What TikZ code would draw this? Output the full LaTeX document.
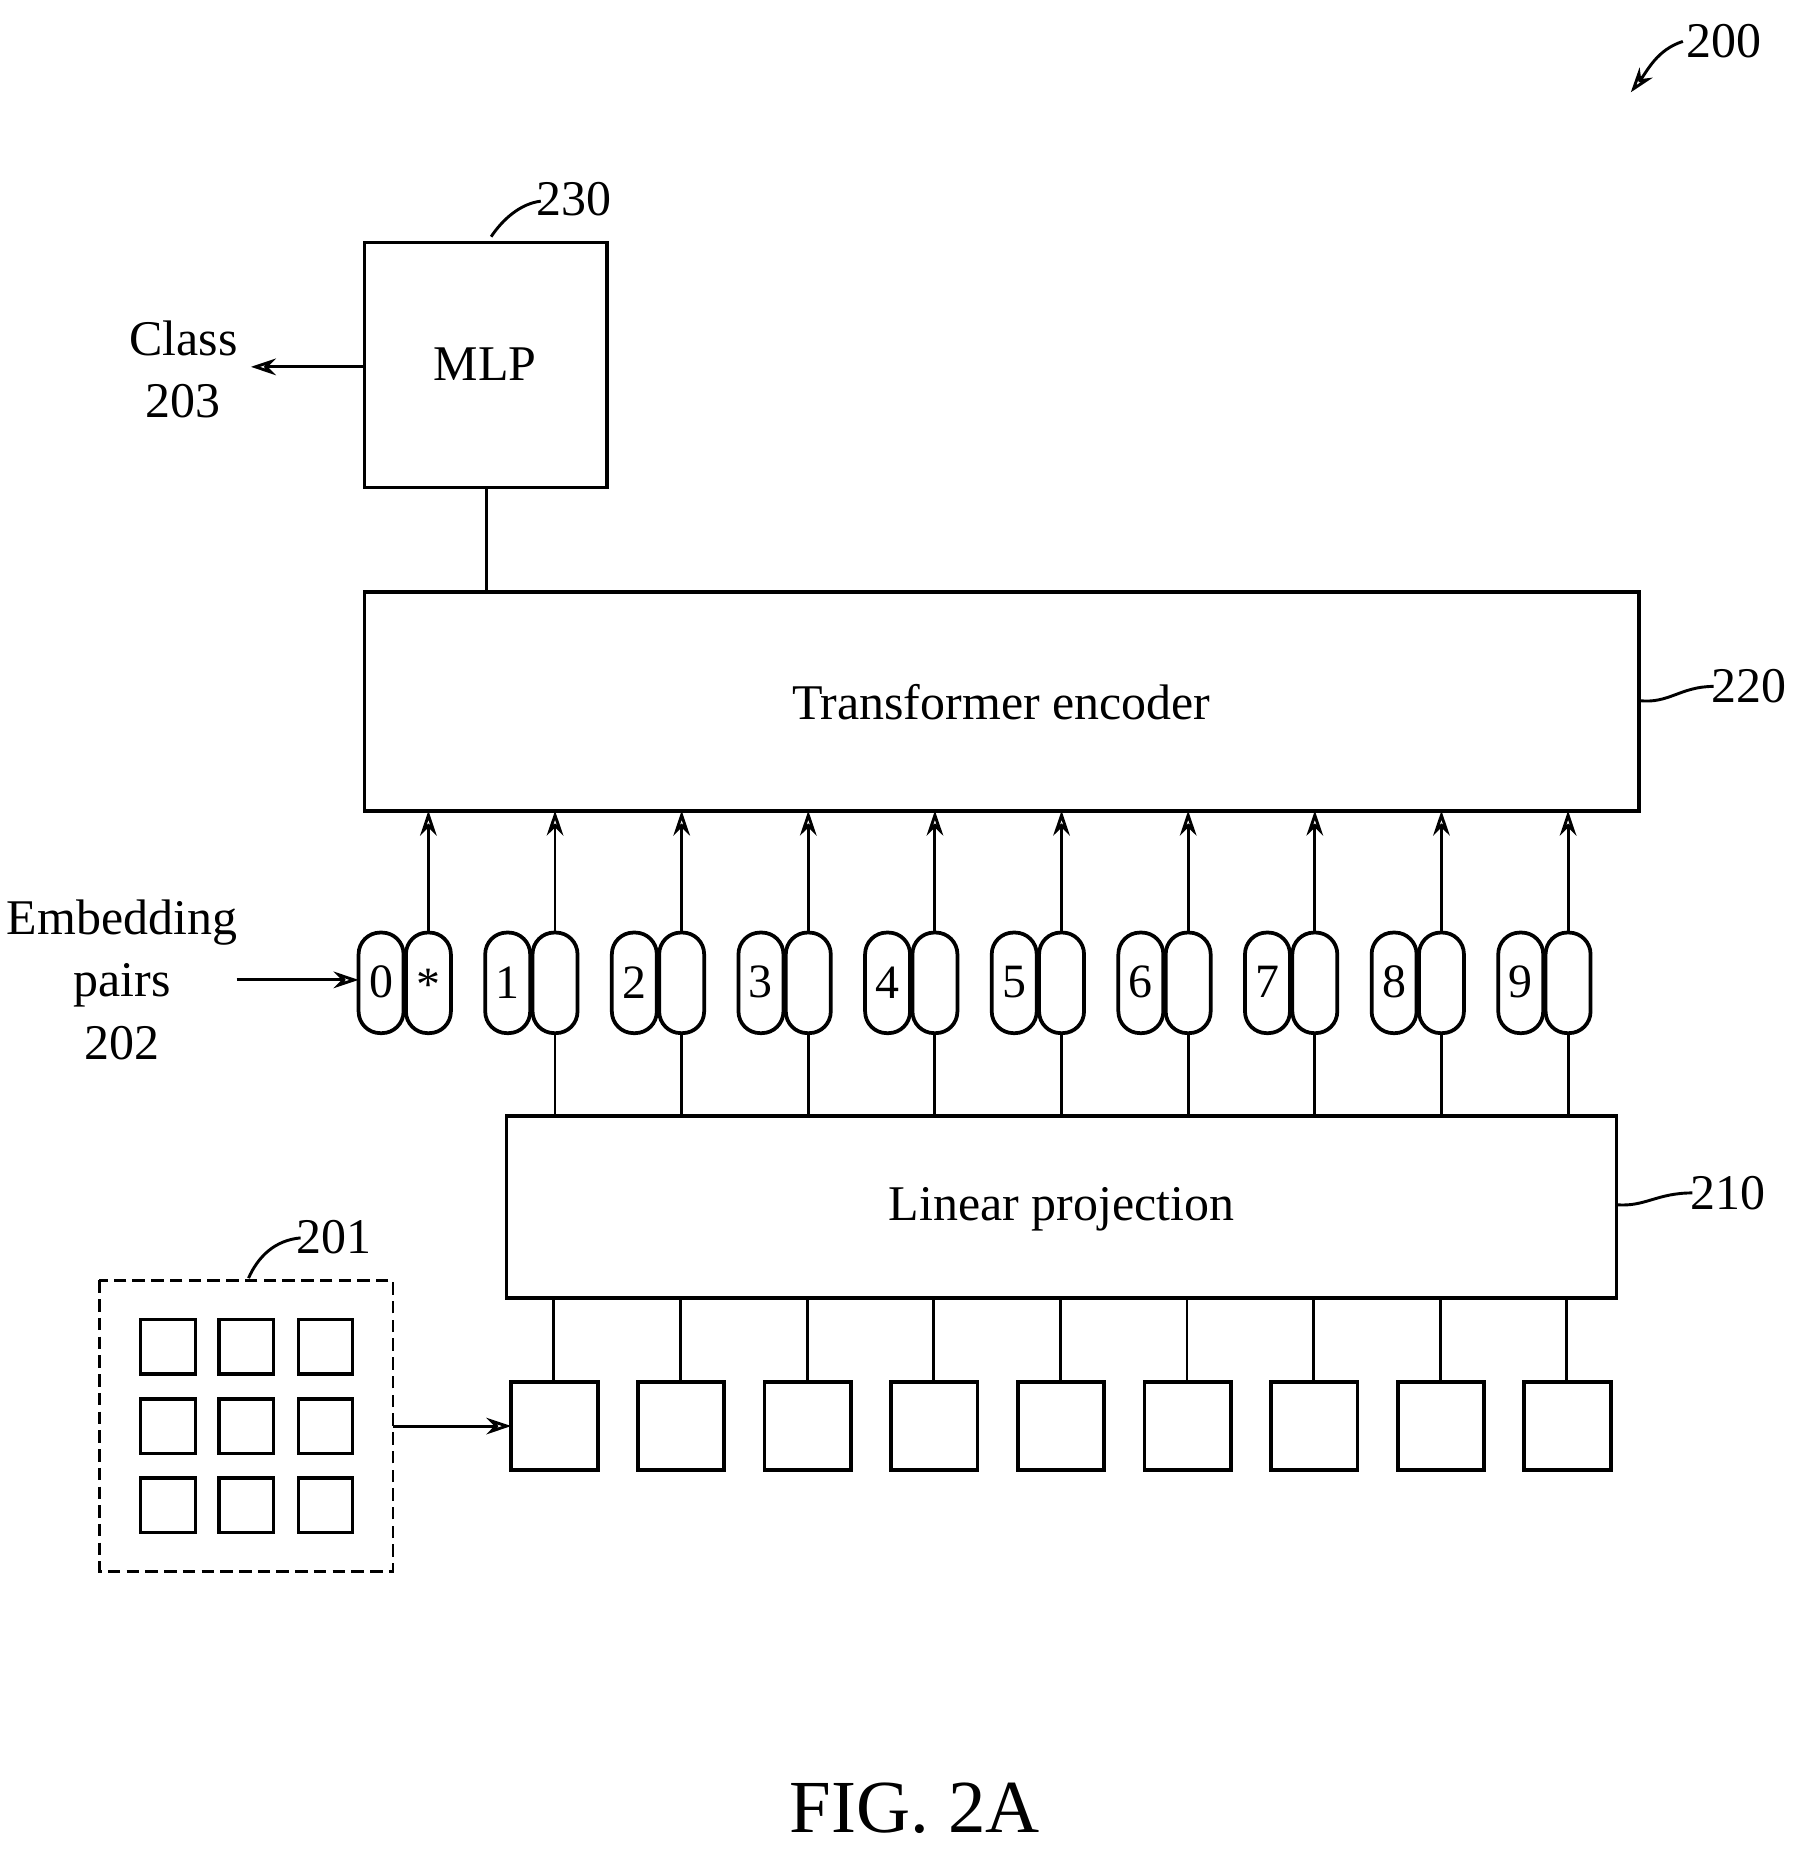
\documentclass[tikz,border=0pt]{standalone}
\usepackage{fontspec}
\setmainfont{Liberation Serif}
\usetikzlibrary{arrows.meta}
\begin{document}
\begin{tikzpicture}[x=0.01cm,y=-0.01cm,
  arr/.style={-{Stealth[open,length=6pt,width=4pt]},line width=0.7pt},
  ln/.style={line width=0.7pt},
  bx/.style={line width=0.9pt},
  pl/.style={line width=0.9pt,rounded corners=5.2pt},
  lbl/.style={font=\fontsize{12}{14}\selectfont},
  txt/.style={font=\fontsize{12}{15}\selectfont,align=center}]
\useasboundingbox (0,0) rectangle (1525,1570);
% 200
\node[lbl] (l200) at (1457,35) {200};
\coordinate (a200s) at (1422,35);
\coordinate (a200e) at (1378,78);
\draw[arr] (a200s) .. controls (1400,42) and (1392,60) .. (a200e);
% MLP
\draw[bx] (308,205) rectangle (513,412);
\node[txt] (mlpt) at (410,308) {MLP};
\node[lbl] (l230) at (485,168) {230};
\coordinate (c230) at (415,200);
\draw[ln] (c230) .. controls (425,185) and (440,172) .. (457,170);
\node[txt] (cls) at (155,312) {Class\\203};
\coordinate (mlpL) at (308,310);
\coordinate (clsR) at (212,310);
\draw[arr] (mlpL) -- (clsR);
% transformer
\draw[bx] (308,500) rectangle (1385,685);
\node[txt] (tr) at (846,593) {Transformer encoder};
\coordinate (mlpB) at (411,412);
\coordinate (trT) at (411,500);
\draw[ln] (mlpB) -- (trT);
\node[lbl] (l220) at (1478,580) {220};
\draw[ln] (1385,592) .. controls (1410,595) and (1420,580) .. (1448,580);
% linear projection
\draw[bx] (428,943) rectangle (1366,1097);
\node[txt] (lp) at (897,1022) {Linear projection};
\node[lbl] (l210) at (1460,1008) {210};
\draw[ln] (1366,1018) .. controls (1390,1020) and (1400,1008) .. (1430,1008);
% pills
\foreach \i in {0,...,9}{
  \pgfmathsetmacro{\xl}{322+107*\i}
  \pgfmathsetmacro{\xr}{362+107*\i}
  \draw[pl] (\xl-19,788) rectangle (\xl+19,873);
  \draw[pl] (\xr-19,788) rectangle (\xr+19,873);
  \node[font=\fontsize{11.5}{14}\selectfont] (p\i) at (\xl,830) {\i};
  \coordinate (pt\i) at (\xr,788);
  \coordinate (tb\i) at (\xr,685);
  \draw[arr] (pt\i) -- (tb\i);
}
\node[font=\fontsize{11.5}{14}\selectfont] (star) at (362,832) {*};
\foreach \i in {1,...,9}{
  \pgfmathsetmacro{\xr}{362+107*\i}
  \coordinate (pb\i) at (\xr,873);
  \coordinate (lt\i) at (\xr,943);
  \draw[ln] (lt\i) -- (pb\i);
}
\node[txt] (emb) at (103,828) {Embedding\\pairs\\202};
\coordinate (embR) at (200,828);
\coordinate (p0L) at (303,828);
\draw[arr] (embR) -- (p0L);
% patches
\foreach \i in {0,...,8}{
  \pgfmathsetmacro{\xc}{468+107*\i}
  \draw[bx] (\xc-36,1168) rectangle (\xc+37,1242);
  \coordinate (q\i) at (\xc,1168);
  \coordinate (lb\i) at (\xc,1097);
  \draw[ln] (q\i) -- (lb\i);
}
% 201
\draw[line width=0.6pt,dash pattern=on 3pt off 1.5pt] (84,1082) rectangle (332,1328);
\foreach \x in {142,208,275}{\foreach \y in {1138,1205,1272}{
  \draw[line width=0.8pt] (\x-23,\y-23) rectangle (\x+23,\y+23);}}
\node[lbl] (l201) at (282,1045) {201};
\draw[ln] (210,1080) .. controls (218,1062) and (232,1048) .. (254,1046);
\coordinate (gR) at (332,1205);
\coordinate (q0L) at (432,1205);
\draw[arr] (gR) -- (q0L);
% fig
\node[font=\fontsize{18}{22}\selectfont] (fig) at (773,1528) {FIG. 2A};
\end{tikzpicture}
\end{document}
